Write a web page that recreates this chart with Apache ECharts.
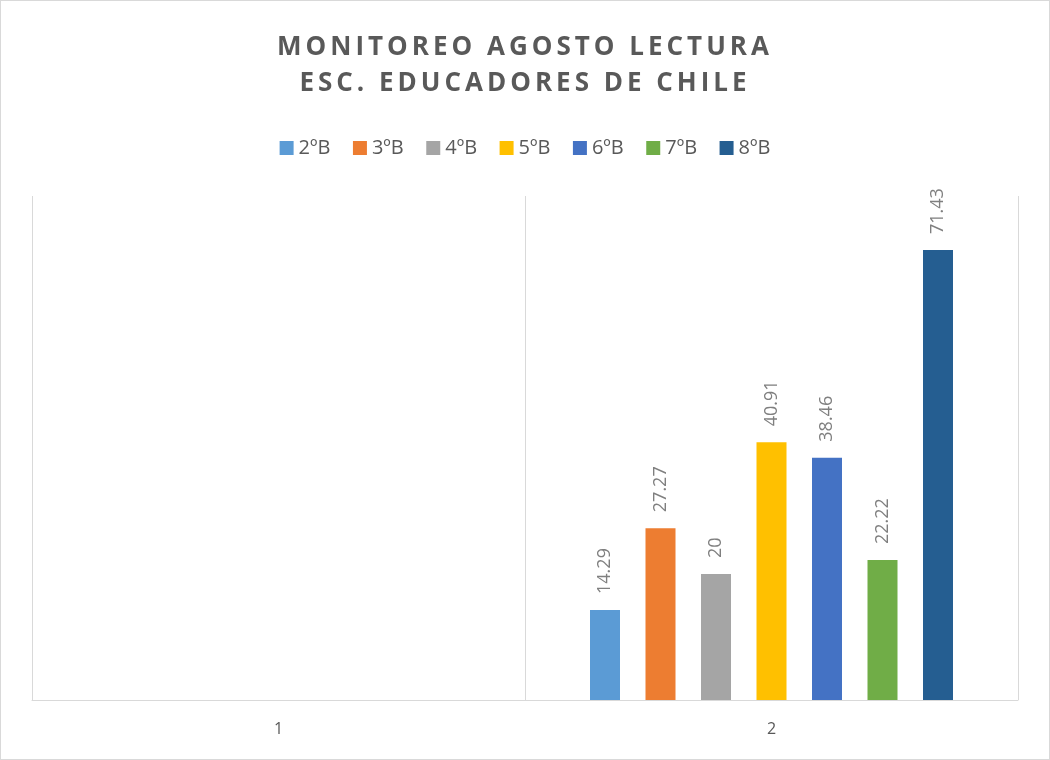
<!DOCTYPE html>
<html>
<head>
<meta charset="utf-8">
<script src="https://cdn.jsdelivr.net/npm/echarts@6/dist/echarts.min.js"></script>
<style>
  html, body { margin: 0; padding: 0; background: #fff; }
  #wrap { position: relative; width: 1050px; height: 760px; }
  #chart { width: 1050px; height: 760px; box-sizing: border-box; border: 1px solid #d9d9d9; }
  #title {
    position: absolute; left: 0; top: 27px; width: 1050px; text-align: center;
    font-family: "Open Sans", sans-serif; font-weight: bold; font-size: 26px;
    line-height: 36px; letter-spacing: 4px; color: #595959; pointer-events: none;
  }
</style>
</head>
<body>
<div id="wrap">
  <div id="chart"></div>
  <div id="title">MONITOREO AGOSTO LECTURA<br>ESC. EDUCADORES DE CHILE</div>
</div>
<script>
var categories = ["1", "2"];
var seriesNames = ["2ºB", "3ºB", "4ºB", "5ºB", "6ºB", "7ºB", "8ºB"];
var seriesColors = ["#5b9bd5", "#ed7d31", "#a5a5a5", "#ffc000", "#4472c4", "#70ad47", "#255e91"];
// category "1" has no values, category "2" has the results
var values2B = [null, 14.29];
var values3B = [null, 27.27];
var values4B = [null, 20];
var values5B = [null, 40.91];
var values6B = [null, 38.46];
var values7B = [null, 22.22];
var values8B = [null, 71.43];
var seriesValues = [values2B, values3B, values4B, values5B, values6B, values7B, values8B];

var chartDom = document.getElementById("chart");
var myChart = echarts.init(chartDom);

var series = [];
seriesNames.forEach(function (name, i) {
  series.push({
    name: name,
    type: "bar",
    data: seriesValues[i],
    barWidth: 30,
    barGap: "85%",
    itemStyle: { color: seriesColors[i] },
    label: {
      show: true,
      position: "top",
      rotate: 90,
      align: "left",
      verticalAlign: "middle",
      distance: 16,
      color: "#7f7f7f",
      fontSize: 18,
      fontFamily: "Open Sans"
    }
  });
});

var option = {
  animation: false,
  legend: {
    top: 132,
    left: "center",
    itemWidth: 14,
    itemHeight: 14,
    itemGap: 22.5,
    icon: "rect",
    textStyle: { color: "#595959", fontSize: 20, fontFamily: "Open Sans" },
    data: seriesNames
  },
  grid: { left: 31, right: 31, top: 195, bottom: 59 },
  xAxis: {
    type: "category",
    data: categories,
    axisLine: { lineStyle: { color: "#d9d9d9" } },
    axisTick: { show: false },
    axisLabel: { color: "#595959", fontSize: 16, fontFamily: "Open Sans", margin: 21 },
    splitLine: { show: true, lineStyle: { color: "#d9d9d9" } }
  },
  yAxis: {
    type: "value",
    min: 0,
    max: 80,
    show: false
  },
  series: series
};
option && myChart.setOption(option);
</script>
</body>
</html>
